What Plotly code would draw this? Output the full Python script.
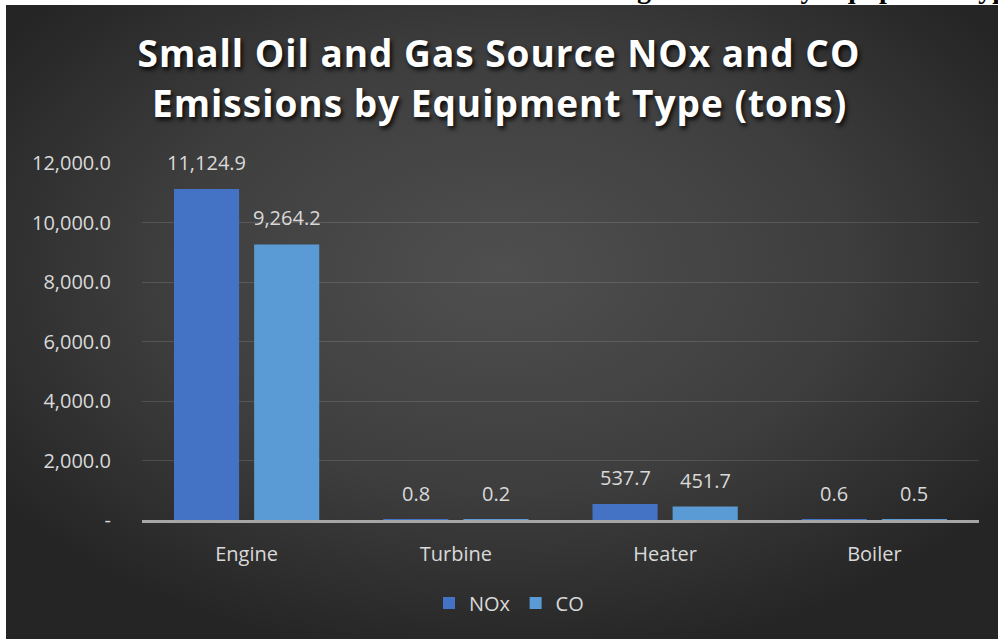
import base64
import plotly.graph_objects as go

# Emissions (tons) by equipment type
categories = ["Engine", "Turbine", "Heater", "Boiler"]
nox = [11124.9, 0.8, 537.7, 0.6]
co = [9264.2, 0.2, 451.7, 0.5]
y_ticks = [0, 2000, 4000, 6000, 8000, 10000, 12000]
y_tick_text = ["-", "2,000.0", "4,000.0", "6,000.0", "8,000.0", "10,000.0", "12,000.0"]

W, H = 998, 639
L, R, T, B = 142, 19, 163, 119
PW, PH = W - L - R, H - T - B


def px_x(x):
    return (x - L) / PW


def px_y(y):
    return (H - B - y) / PH


# dark radial backdrop for the chart panel
svg = f"""<svg xmlns='http://www.w3.org/2000/svg' width='992' height='634' viewBox='0 0 992 634' preserveAspectRatio='none'>
<defs><radialGradient id='g' cx='0.5' cy='0.42' r='0.62' gradientUnits='objectBoundingBox'>
<stop offset='0' stop-color='#4f4f4f'/><stop offset='0.55' stop-color='#3e3e3e'/><stop offset='1' stop-color='#252525'/>
</radialGradient></defs><rect width='992' height='634' fill='url(#g)'/></svg>"""
bg_src = "data:image/svg+xml;base64," + base64.b64encode(svg.encode()).decode()

label_font = dict(family="Open Sans", size=20, color="#d9d9d9")

series = [("NOx", nox, "#4472C4", -40), ("CO", co, "#5B9BD5", 40)]

fig = go.Figure()
for name, vals, color, _ in series:
    fig.add_trace(go.Bar(
        name=name, x=categories, y=vals,
        marker=dict(color=color, line=dict(width=0)),
        cliponaxis=False,
    ))

# value labels above each bar
for name, vals, color, dx in series:
    for cat, v in zip(categories, vals):
        fig.add_annotation(
            x=cat, y=v, xref="x", yref="y", text=f"{v:,.1f}",
            showarrow=False, xanchor="center", yanchor="bottom",
            xshift=dx, yshift=11, font=label_font,
        )

fig.update_layout(
    width=W, height=H,
    margin=dict(l=L, r=R, t=T, b=B, pad=0),
    paper_bgcolor="white",
    plot_bgcolor="rgba(0,0,0,0)",
    barmode="group",
    bargap=0.234,
    bargroupgap=0.1875,
    font=label_font,
    showlegend=True,
    legend=dict(
        orientation="h", x=px_x(509), xanchor="center",
        y=px_y(603), yanchor="middle",
        font=dict(family="Open Sans", size=20, color="#d9d9d9"),
        bgcolor="rgba(0,0,0,0)", itemwidth=30, traceorder="normal",
    ),
    xaxis=dict(
        showgrid=False, showline=True, linecolor="#a6a6a6", linewidth=3,
        ticks="outside", ticklen=14, tickcolor="rgba(0,0,0,0)",
        tickfont=label_font, fixedrange=True,
    ),
    yaxis=dict(
        range=[0, 12000], tickvals=y_ticks, ticktext=y_tick_text,
        showgrid=True, gridcolor="rgba(255,255,255,0.13)", gridwidth=1,
        zeroline=False, showline=False,
        ticks="outside", ticklen=26, tickcolor="rgba(0,0,0,0)",
        tickfont=label_font, fixedrange=True,
    ),
    images=[dict(
        source=bg_src, xref="paper", yref="paper",
        x=px_x(6), y=px_y(5), sizex=(W - 6) / PW, sizey=(H - 5) / PH,
        xanchor="left", yanchor="top", sizing="stretch", layer="below",
    )],
)

title_font = dict(family="Open Sans", size=37, color="white",
                  weight="bold", shadow="2px 3px 4px rgba(0,0,0,0.85)")
fig.add_annotation(text="Small Oil and Gas Source NOx and CO", xref="paper", yref="paper",
                   x=px_x(499), y=px_y(52), xanchor="center", yanchor="middle",
                   showarrow=False, font=title_font)
fig.add_annotation(text="Emissions by Equipment Type (tons)", xref="paper", yref="paper",
                   x=px_x(499), y=px_y(103), xanchor="center", yanchor="middle",
                   showarrow=False, font=title_font)

# caption line of the surrounding document, mostly above the page edge
fig.add_annotation(text="Existing Emissions by Equipment Type", xref="paper", yref="paper",
                   x=px_x(551), y=px_y(-11), xanchor="left", yanchor="middle",
                   showarrow=False,
                   font=dict(family="Liberation Serif", size=28, color="black", weight="bold"))

# slightly open up the tracking of the two title lines
post = """
var gd = document.getElementById('{plot_id}');
gd.querySelectorAll('.annotation-text').forEach(function(t){
  var s = t.textContent;
  if (s.indexOf('NOx and CO') >= 0 || s.indexOf('(tons)') >= 0) {
    t.style.letterSpacing = '1px';
  }
});
"""

fig.write_html("out.html", config={"displayModeBar": False}, post_script=post)
